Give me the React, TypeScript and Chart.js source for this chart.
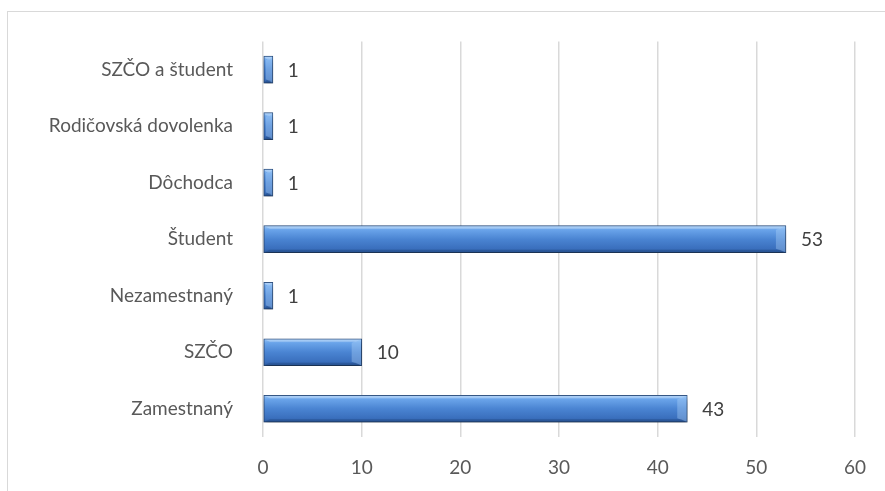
import React, { useEffect, useRef } from "react";
import { Chart, registerables } from "chart.js";

Chart.register(...registerables);

const categories = [
  "SZČO a študent",
  "Rodičovská dovolenka",
  "Dôchodca",
  "Študent",
  "Nezamestnaný",
  "SZČO",
  "Zamestnaný",
];
const values = [1, 1, 1, 53, 1, 10, 43];
const xMin = 0;
const xMax = 60;
const xStep = 10;

const FONT = "Lato, 'Open Sans', sans-serif";
const FS = 19;

const frame = {
  id: "frame",
  beforeDraw(chart: any) {
    const ctx = chart.ctx;
    ctx.save();
    ctx.strokeStyle = "#d9d9d9";
    ctx.lineWidth = 1;
    ctx.strokeRect(7.5, 11.5, chart.width + 20, chart.height + 20);
    ctx.restore();
  },
};

const shadow = {
  id: "barShadow",
  beforeDatasetsDraw(chart: any) {
    const ctx = chart.ctx;
    ctx.save();
    ctx.shadowColor = "rgba(0,0,0,0.4)";
    ctx.shadowBlur = 6;
    ctx.shadowOffsetX = 1;
    ctx.shadowOffsetY = 4;
  },
  afterDatasetsDraw(chart: any) {
    chart.ctx.restore();
  },
};

const bevel = {
  id: "bevel",
  afterDatasetsDraw(chart: any) {
    const ctx = chart.ctx;
    const meta = chart.getDatasetMeta(0);
    ctx.save();
    meta.data.forEach((el: any) => {
      const h = el.height;
      const top = el.y - h / 2;
      const bot = el.y + h / 2;
      const left = el.base;
      const right = el.x;
      const d = Math.min(6, (right - left) / 3);
      // top highlight strip
      ctx.fillStyle = "rgba(255,255,255,0.25)";
      ctx.beginPath();
      ctx.moveTo(left + 0.5, top + 0.5);
      ctx.lineTo(right - 0.5, top + 0.5);
      ctx.lineTo(right - d, top + 3);
      ctx.lineTo(left + d, top + 3);
      ctx.closePath();
      ctx.fill();
      // right bevel
      ctx.fillStyle = "rgba(180,215,250,0.35)";
      ctx.beginPath();
      ctx.moveTo(right - 0.5, top + 0.5);
      ctx.lineTo(right - 0.5, bot - 0.5);
      ctx.lineTo(right - d - 4, bot - 4);
      ctx.lineTo(right - d - 4, top + 4);
      ctx.closePath();
      ctx.fill();
      // bottom dark strip
      ctx.fillStyle = "rgba(20,50,100,0.25)";
      ctx.beginPath();
      ctx.moveTo(left + 0.5, bot - 0.5);
      ctx.lineTo(right - 0.5, bot - 0.5);
      ctx.lineTo(right - d, bot - 3);
      ctx.lineTo(left + d, bot - 3);
      ctx.closePath();
      ctx.fill();
    });
    ctx.restore();
  },
};

const labels = {
  id: "valueLabels",
  afterDatasetsDraw(chart: any) {
    const ctx = chart.ctx;
    const meta = chart.getDatasetMeta(0);
    ctx.save();
    ctx.fillStyle = "#404040";
    ctx.font = `${FS}px ${FONT}`;
    ctx.textBaseline = "middle";
    ctx.textAlign = "left";
    meta.data.forEach((el: any, i: number) => {
      ctx.fillText(String(values[i]), el.x + 15, el.y + 1);
    });
    ctx.restore();
  },
};

export default function App() {
  const ref = useRef<HTMLCanvasElement>(null);
  useEffect(() => {
    if (!ref.current) return;
    const chart = new Chart(ref.current, {
      type: "bar",
      data: {
        labels: categories,
        datasets: [
          {
            data: values,
            barThickness: 27,
            borderColor: "#2a4e80",
            borderWidth: 1,
            borderSkipped: false,
            backgroundColor: (c: any) => {
              const chartObj = c.chart;
              const ys = chartObj.scales?.y;
              if (!ys || c.dataIndex === undefined) return "#4a84d2";
              const cy = ys.getPixelForValue(c.dataIndex);
              if (!Number.isFinite(cy)) return "#4a84d2";
              const g = chartObj.ctx.createLinearGradient(0, cy - 13.5, 0, cy + 13.5);
              g.addColorStop(0, "#9cc8f7");
              g.addColorStop(0.15, "#6aa4ea");
              g.addColorStop(0.5, "#4a84d2");
              g.addColorStop(0.85, "#3a6fbd");
              g.addColorStop(1, "#2c5a9e");
              return g;
            },
          },
        ],
      },
      options: {
        indexAxis: "y",
        animation: false,
        responsive: false,
        maintainAspectRatio: false,
        layout: { padding: { left: 0, top: 40, right: 29, bottom: 0 } },
        plugins: {
          legend: { display: false },
          tooltip: { enabled: false },
        },
        scales: {
          x: {
            min: xMin,
            max: xMax,
            ticks: {
              stepSize: xStep,
              padding: 19,
              color: "#595959",
              font: { family: FONT, size: FS },
            },
            grid: { color: "#d9d9d9", lineWidth: 1.5, drawTicks: false },
            border: { display: false },
            afterFit: (s: any) => {
              s.height = 54;
            },
          },
          y: {
            ticks: {
              padding: 30,
              color: "#595959",
              font: { family: FONT, size: FS },
            },
            grid: { display: false, drawTicks: false },
            border: { display: false },
            afterFit: (s: any) => {
              s.width = 263;
            },
          },
        },
      },
      plugins: [frame, shadow, bevel, labels],
    } as any);
    return () => chart.destroy();
  }, []);
  return (
    <div style={{ position: "fixed", left: 0, top: 0, width: 885, height: 491, background: "#fff" }}>
      <canvas ref={ref} width={885} height={491} style={{ width: 885, height: 491, display: "block" }} />
    </div>
  );
}
